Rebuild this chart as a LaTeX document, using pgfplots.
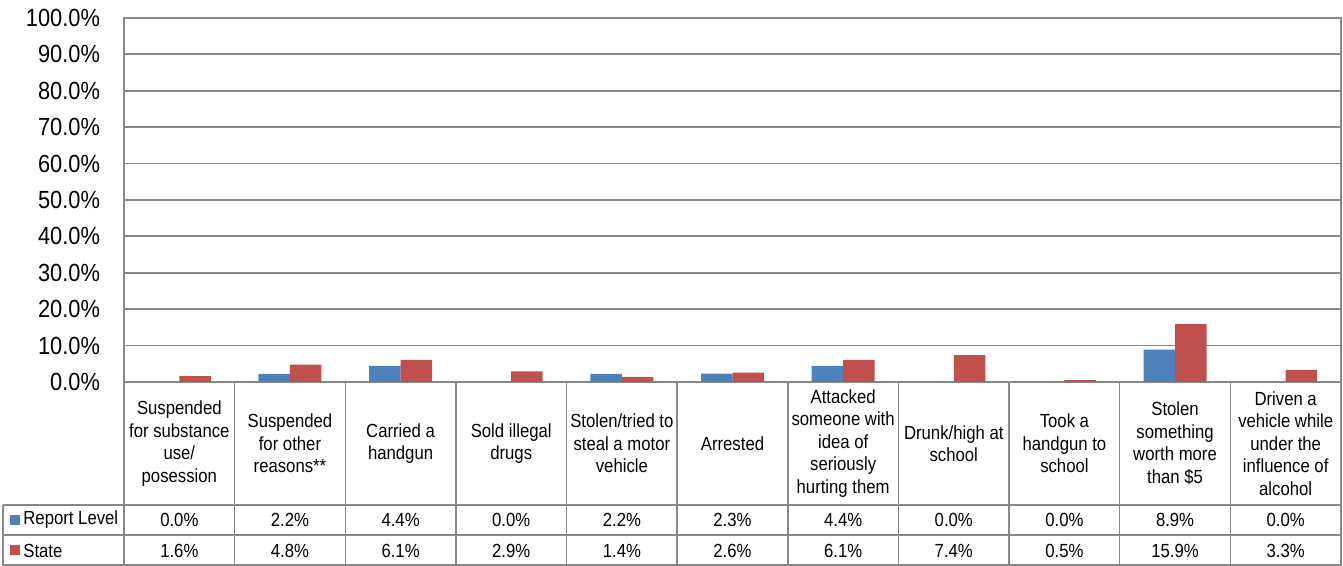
\documentclass[border=0pt]{standalone}
\usepackage{fontspec}
\setmainfont{Liberation Sans}[FakeStretch=0.88]
\usepackage{pgfplots}
\pgfplotsset{compat=1.18}
\definecolor{rep}{HTML}{4F81BD}
\definecolor{sta}{HTML}{C0504D}
\definecolor{gridc}{HTML}{878787}

\begin{document}
\begin{tikzpicture}[x=1pt,y=1pt]
\useasboundingbox (-62,-92) rectangle (609.5,191);
\begin{axis}[
  at={(0,0)}, anchor=south west, scale only axis,
  width=608.5pt, height=182pt,
  ybar=0pt, bar width=15.75pt,
  xmin=-0.5, xmax=10.5, ymin=0, ymax=100,
  xtick=\empty,
  ytick={0,10,...,100},
  /pgf/number format/assume math mode=true,
  yticklabel={\pgfmathprintnumber[fixed,fixed zerofill,precision=1]{\tick}\%},
  yticklabel style={font=\fontsize{12.4}{14}\selectfont, xshift=-8.5pt},
  major tick length=0pt,
  ymajorgrids, grid style={gridc, line width=0.9pt},
  axis line style={gridc, line width=0.9pt},
  clip=false,
]
% Report Level
\addplot[fill=rep, draw=none] coordinates
  {(0,0) (1,2.2) (2,4.4) (3,0) (4,2.2) (5,2.3) (6,4.4) (7,0) (8,0) (9,8.9) (10,0)};
% State
\addplot[fill=sta, draw=none] coordinates
  {(0,1.6) (1,4.8) (2,6.1) (3,2.9) (4,1.4) (5,2.6) (6,6.1) (7,7.4) (8,0.5) (9,15.9) (10,3.3)};
\end{axis}

% data table under the axis
\def\cw{55.318}
\begin{scope}[gridc, line width=0.75pt]
  \draw (-60.5,-61.5) -- (608.5,-61.5);
  \draw (-60.5,-76.5) -- (608.5,-76.5);
  \draw (-60.5,-91.6) -- (608.5,-91.6);
  \draw (-60.5,-61.5) -- (-60.5,-92);
  \foreach \k in {0,...,11} \draw (\k*\cw,0) -- (\k*\cw,-92);
\end{scope}

\begin{scope}[every node/.style={font=\fontsize{9.5}{11.25}\selectfont, inner sep=0pt}]
  \foreach \lab [count=\i from 0] in {
      {Suspended\\for substance\\use/\\posession},
      {Suspended\\for other\\reasons**},
      {Carried a\\handgun},
      {Sold illegal\\drugs},
      {Stolen/tried to\\steal a motor\\vehicle},
      {Arrested},
      {Attacked\\someone with\\idea of\\seriously\\hurting them},
      {Drunk/high at\\school},
      {Took a\\handgun to\\school},
      {Stolen\\something\\worth more\\than \$5},
      {Driven a\\vehicle while\\under the\\influence of\\alcohol}}
    \node[align=center] at ({(\i+0.5)*\cw},-30.75) {\lab};
  \foreach \v [count=\i from 0] in {0.0,2.2,4.4,0.0,2.2,2.3,4.4,0.0,0.0,8.9,0.0}
    \node at ({(\i+0.5)*\cw},-69) {\v\%};
  \foreach \v [count=\i from 0] in {1.6,4.8,6.1,2.9,1.4,2.6,6.1,7.4,0.5,15.9,3.3}
    \node at ({(\i+0.5)*\cw},-84.25) {\v\%};
  \fill[rep] (-57,-71.5) rectangle (-52,-66.5);
  \node[anchor=west] at (-50.5,-69) {Report Level};
  \fill[sta] (-57,-86.75) rectangle (-52,-81.75);
  \node[anchor=west] at (-50.5,-84.25) {State};
\end{scope}
\end{tikzpicture}
\end{document}
